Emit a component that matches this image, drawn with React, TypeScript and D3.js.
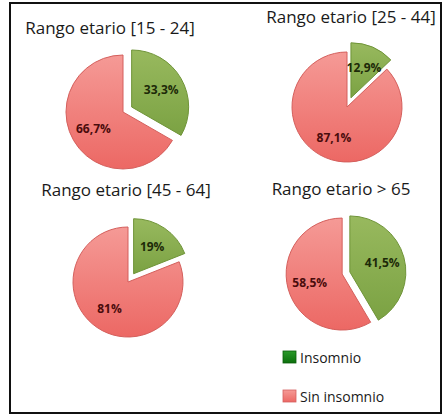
import React, { useRef, useEffect } from 'react';
import * as d3 from 'd3';

// data
const groups = ['Rango etario [15 - 24]', 'Rango etario [25 - 44]', 'Rango etario [45 - 64]', 'Rango etario > 65'];
const categories = ['Insomnio', 'Sin insomnio'];
const insomnio = [33.3, 12.9, 19, 41.5];
const sinInsomnio = [66.7, 87.1, 81, 58.5];

// panel layout
const panels = [
  { cx: 123, cy: 112, r: 57, tx: 110, ty: 34, explodeAll: false },
  { cx: 347, cy: 107, r: 55, tx: 351, ty: 23, explodeAll: false },
  { cx: 128, cy: 282, r: 55, tx: 126, ty: 196, explodeAll: false },
  { cx: 346, cy: 273, r: 56, tx: 341, ty: 195, explodeAll: true }
];

const fmt = (v: number) => (Number.isInteger(v) ? `${v}%` : `${v.toFixed(1).replace('.', ',')}%`);

export default function App() {
  const svgRef = useRef<SVGSVGElement>(null);

  useEffect(() => {
    const width = 444;
    const height = 417;
    const svg = d3.select(svgRef.current);
    svg.selectAll('*').remove();
    svg.attr('width', width).attr('height', height);

    const defs = svg.append('defs');
    const redGrad = defs.append('linearGradient').attr('id', 'g-red').attr('x1', 0).attr('y1', 0).attr('x2', 0).attr('y2', 1);
    redGrad.append('stop').attr('offset', '0%').attr('stop-color', '#f59a96');
    redGrad.append('stop').attr('offset', '100%').attr('stop-color', '#ec6864');
    const greenGrad = defs.append('linearGradient').attr('id', 'g-green').attr('x1', 0).attr('y1', 0).attr('x2', 0).attr('y2', 1);
    greenGrad.append('stop').attr('offset', '0%').attr('stop-color', '#98b95e');
    greenGrad.append('stop').attr('offset', '100%').attr('stop-color', '#7ba243');
    const legGreen = defs.append('linearGradient').attr('id', 'l-green').attr('x1', 0).attr('y1', 0).attr('x2', 0).attr('y2', 1);
    legGreen.append('stop').attr('offset', '0%').attr('stop-color', '#2a9a2a');
    legGreen.append('stop').attr('offset', '100%').attr('stop-color', '#0c700c');

    const fills = ['url(#g-green)', 'url(#g-red)'];
    const strokes = ['#6f9438', '#d45f5c'];
    const labelColors = ['#1d2a08', '#4a0c0c'];

    // frame
    svg.append('rect')
      .attr('x', 10).attr('y', 3)
      .attr('width', 431).attr('height', 410)
      .attr('fill', 'white')
      .attr('stroke', '#111')
      .attr('stroke-width', 2);

    const pie = d3.pie<number>().sort(null).value(d => d);

    groups.forEach((name, i) => {
      const p = panels[i];
      const values = [insomnio[i], sinInsomnio[i]];
      const arcs = pie(values);
      const arc = d3.arc<d3.PieArcDatum<number>>().innerRadius(0).outerRadius(p.r);
      const labelArc = d3.arc<d3.PieArcDatum<number>>().innerRadius(p.r * 0.6).outerRadius(p.r * 0.6);

      svg.append('text')
        .attr('x', p.tx).attr('y', p.ty)
        .attr('text-anchor', 'middle')
        .attr('font-family', '"Open Sans", sans-serif')
        .attr('font-size', 17)
        .attr('fill', '#1a1a1a')
        .text(name);

      const g = svg.append('g').attr('transform', `translate(${p.cx},${p.cy})`);

      arcs.forEach((a, j) => {
        const mid = (a.startAngle + a.endAngle) / 2;
        const off = j === 0 ? (p.explodeAll ? 4 : 10) : (p.explodeAll ? 4 : 0);
        const dx = Math.sin(mid) * off;
        const dy = -Math.cos(mid) * off;
        const slice = g.append('g').attr('transform', `translate(${dx},${dy})`);
        slice.append('path')
          .attr('d', arc(a) as string)
          .attr('fill', fills[j])
          .attr('stroke', strokes[j])
          .attr('stroke-width', 1);
        const [lx, ly] = labelArc.centroid(a);
        slice.append('text')
          .attr('x', lx).attr('y', ly)
          .attr('dy', '0.35em')
          .attr('text-anchor', 'middle')
          .attr('font-family', '"Open Sans", sans-serif')
          .attr('font-weight', 'bold')
          .attr('font-size', 12)
          .attr('fill', labelColors[j])
          .text(fmt(values[j]));
      });
    });

    // legend
    const legend = svg.append('g').attr('transform', 'translate(283,351)');
    categories.forEach((c, i) => {
      const row = legend.append('g').attr('transform', `translate(0,${i * 39})`);
      row.append('rect')
        .attr('width', 13).attr('height', 12)
        .attr('fill', i === 0 ? 'url(#l-green)' : 'url(#g-red)')
        .attr('stroke', i === 0 ? '#0b5e0b' : '#d46060')
        .attr('stroke-width', 0.8);
      row.append('text')
        .attr('x', 17).attr('y', 12)
        .attr('font-family', '"Open Sans", sans-serif')
        .attr('font-size', 14)
        .attr('fill', '#1a1a1a')
        .text(c);
    });
  }, []);

  return (
    <div style={{ position: 'absolute', left: 0, top: 0 }}>
      <svg ref={svgRef} />
    </div>
  );
}
